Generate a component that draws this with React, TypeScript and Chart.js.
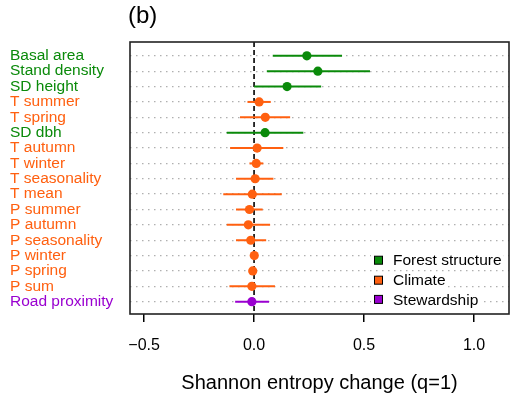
import React, { useEffect, useRef } from "react";
import { Chart, registerables } from "chart.js";

Chart.register(...registerables);

const LABELS = [
  "Basal area", "Stand density", "SD height", "T summer", "T spring", "SD dbh",
  "T autumn", "T winter", "T seasonality", "T mean", "P summer", "P autumn",
  "P seasonality", "P winter", "P spring", "P sum", "Road proximity",
];
const GROUP = [0, 0, 0, 1, 1, 0, 1, 1, 1, 1, 1, 1, 1, 1, 1, 1, 2];
const MEAN = [0.24, 0.29, 0.15, 0.023, 0.051, 0.05, 0.014, 0.01, 0.005, -0.008, -0.021, -0.026, -0.015, 0.001, -0.006, -0.01, -0.01];
const LOWER = [0.085, 0.058, 0.0, -0.03, -0.064, -0.124, -0.109, -0.021, -0.082, -0.14, -0.082, -0.124, -0.082, -0.008, -0.014, -0.112, -0.086];
const UPPER = [0.40, 0.527, 0.305, 0.076, 0.164, 0.224, 0.133, 0.042, 0.088, 0.126, 0.039, 0.073, 0.055, 0.01, 0.004, 0.095, 0.068];
const GROUP_NAMES = ["Forest structure", "Climate", "Stewardship"];
const GROUP_COLORS = ["#0a8a0a", "#ff6010", "#9a00d0"];
const X_TICKS = [-0.5, 0, 0.5, 1.0];

const FONT = "'Liberation Sans', Arial, sans-serif";

export default function App() {
  const ref = useRef<HTMLCanvasElement>(null);
  useEffect(() => {
    document.body.style.margin = "0";
    const canvas = ref.current!;
    const datasets = GROUP_NAMES.map((name, g) => ({
      label: name,
      data: MEAN.map((m, i) => ({ x: m, y: i })).filter((_, i) => GROUP[i] === g),
      backgroundColor: GROUP_COLORS[g],
      borderColor: GROUP_COLORS[g],
      borderWidth: 0,
      pointRadius: 4.6,
      pointHoverRadius: 4.6,
    }));

    const decor = {
      id: "decor",
      beforeDatasetsDraw(chart: any) {
        const ctx = chart.ctx;
        const xs = chart.scales.x;
        const ys = chart.scales.y;
        const a = chart.chartArea;
        ctx.save();
        ctx.strokeStyle = "#000";
        ctx.lineWidth = 1.6;
        ctx.setLineDash([5, 3]);
        const x0 = xs.getPixelForValue(0);
        ctx.beginPath();
        ctx.moveTo(x0, a.top);
        ctx.lineTo(x0, a.bottom);
        ctx.stroke();
        ctx.setLineDash([]);
        ctx.lineWidth = 2;
        for (let i = 0; i < MEAN.length; i++) {
          const y = ys.getPixelForValue(i);
          ctx.strokeStyle = GROUP_COLORS[GROUP[i]];
          ctx.beginPath();
          ctx.moveTo(xs.getPixelForValue(LOWER[i]), y);
          ctx.lineTo(xs.getPixelForValue(UPPER[i]), y);
          ctx.stroke();
        }
        ctx.restore();
      },
      afterDraw(chart: any) {
        const ctx = chart.ctx;
        const a = chart.chartArea;
        const ys = chart.scales.y;
        ctx.save();
        ctx.font = `15.5px ${FONT}`;
        ctx.textBaseline = "middle";
        ctx.textAlign = "left";
        const legY = [ys.getPixelForValue(13.3), ys.getPixelForValue(14.6), ys.getPixelForValue(15.85)];
        GROUP_NAMES.forEach((name, g) => {
          const y = legY[g];
          const w = ctx.measureText(name).width;
          ctx.fillStyle = "#fff";
          ctx.fillRect(371, y - 8, 393 - 371 + w + 2, 16);
          ctx.fillStyle = GROUP_COLORS[g];
          ctx.fillRect(374.5, y - 4, 8, 8);
          ctx.strokeStyle = "#000";
          ctx.lineWidth = 1;
          ctx.strokeRect(374.5, y - 4, 8, 8);
          ctx.fillStyle = "#000";
          ctx.fillText(name, 393, y + 1);
        });
        ctx.strokeStyle = "#222";
        ctx.lineWidth = 1.6;
        ctx.strokeRect(a.left, a.top, a.right - a.left, a.bottom - a.top);
        ctx.fillStyle = "#000";
        ctx.font = `24px ${FONT}`;
        ctx.textBaseline = "middle";
        ctx.fillText("(b)", a.left - 2, 16);
        ctx.restore();
      },
    };

    const chart = new Chart(canvas, {
      type: "scatter",
      data: { datasets },
      options: {
        animation: false,
        responsive: false,
        maintainAspectRatio: false,
        layout: { autoPadding: false, padding: { left: 10, right: 1, top: 42, bottom: 0 } },
        plugins: { legend: { display: false }, tooltip: { enabled: false } },
        scales: {
          x: {
            type: "linear",
            min: -0.564,
            max: 1.159,
            afterBuildTicks: (s: any) => {
              s.ticks = X_TICKS.map((v) => ({ value: v }));
            },
            afterFit: (s: any) => {
              s.height = 87;
              s.paddingLeft = 0;
              s.paddingRight = 0;
            },
            border: { display: false },
            grid: { drawOnChartArea: false, drawTicks: true, tickLength: 8, color: "#000", lineWidth: 1.5 },
            ticks: {
              color: "#000",
              font: { family: FONT, size: 16 },
              padding: 14,
              maxRotation: 0,
              autoSkip: false,
              callback: (v: any) => {
                const n = Number(v);
                const s = Math.abs(n).toFixed(1);
                return n < 0 ? "\u2212" + s : s;
              },
            },
            title: {
              display: true,
              text: "Shannon entropy change (q=1)",
              color: "#000",
              font: { family: FONT, size: 20 },
              padding: { top: 0, bottom: 6 },
            },
          },
          y: {
            type: "linear",
            reverse: true,
            min: -0.9,
            max: 16.8,
            afterBuildTicks: (s: any) => {
              s.ticks = LABELS.map((_, i) => ({ value: i }));
            },
            afterFit: (s: any) => {
              s.width = 120;
              s.paddingTop = 0;
              s.paddingBottom = 0;
            },
            border: { display: false, dash: [1.5, 4.5] },
            grid: { drawTicks: false, color: "#b0b0b0", lineWidth: 1.3 },
            ticks: {
              crossAlign: "far",
              padding: 0,
              autoSkip: false,
              font: { family: FONT, size: 15.5 },
              color: (c: any) => GROUP_COLORS[GROUP[c.tick ? c.tick.value : c.index]],
              callback: (v: any) => LABELS[Number(v)],
            },
          },
        },
      } as any,
      plugins: [decor],
    });
    return () => chart.destroy();
  }, []);
  return <canvas ref={ref} width={510} height={401} style={{ display: "block" }} />;
}
